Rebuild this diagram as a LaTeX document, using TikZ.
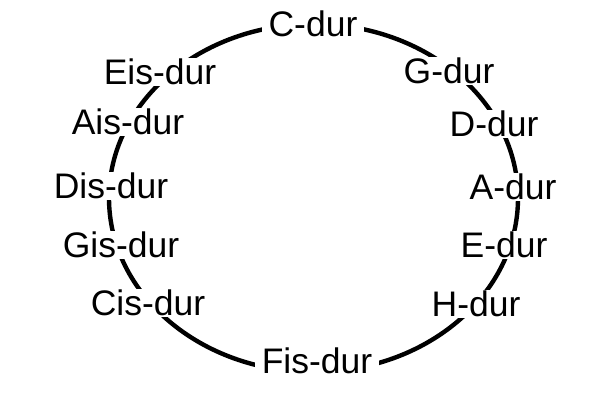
\documentclass[tikz,border=0pt]{standalone}
\usepackage{fontspec}
\setmainfont{Liberation Sans}
\begin{document}
\begin{tikzpicture}[x=1pt,y=-1pt,
  keylabel/.style={fill=white,inner xsep=7pt,inner ysep=1.5pt,text depth=0pt,font=\fontsize{35.5}{40}\selectfont},
  ring/.style={draw=black,line width=4.4pt}]
\useasboundingbox (0,0) rectangle (600,400);
\fill[white] (0,0) rectangle (600,400);
\coordinate (ctr) at (313.5,198);
\draw[ring] (ctr) ellipse [x radius=204.5pt, y radius=174pt];
\node[keylabel] (c)   at (313,24)  {C-dur};
\node[keylabel] (g)   at (449,71)  {G-dur};
\node[keylabel] (d)   at (494,124) {D-dur};
\node[keylabel] (a)   at (513,187) {A-dur};
\node[keylabel] (e)   at (504,245) {E-dur};
\node[keylabel] (h)   at (476,304) {H-dur};
\node[keylabel] (fis) at (317,361) {Fis-dur};
\node[keylabel] (cis) at (148,303) {Cis-dur};
\node[keylabel] (gis) at (121,245) {Gis-dur};
\node[keylabel] (dis) at (111,186) {Dis-dur};
\node[keylabel] (ais) at (128,122) {Ais-dur};
\node[keylabel] (eis) at (160,72)  {Eis-dur};
\end{tikzpicture}
\end{document}
